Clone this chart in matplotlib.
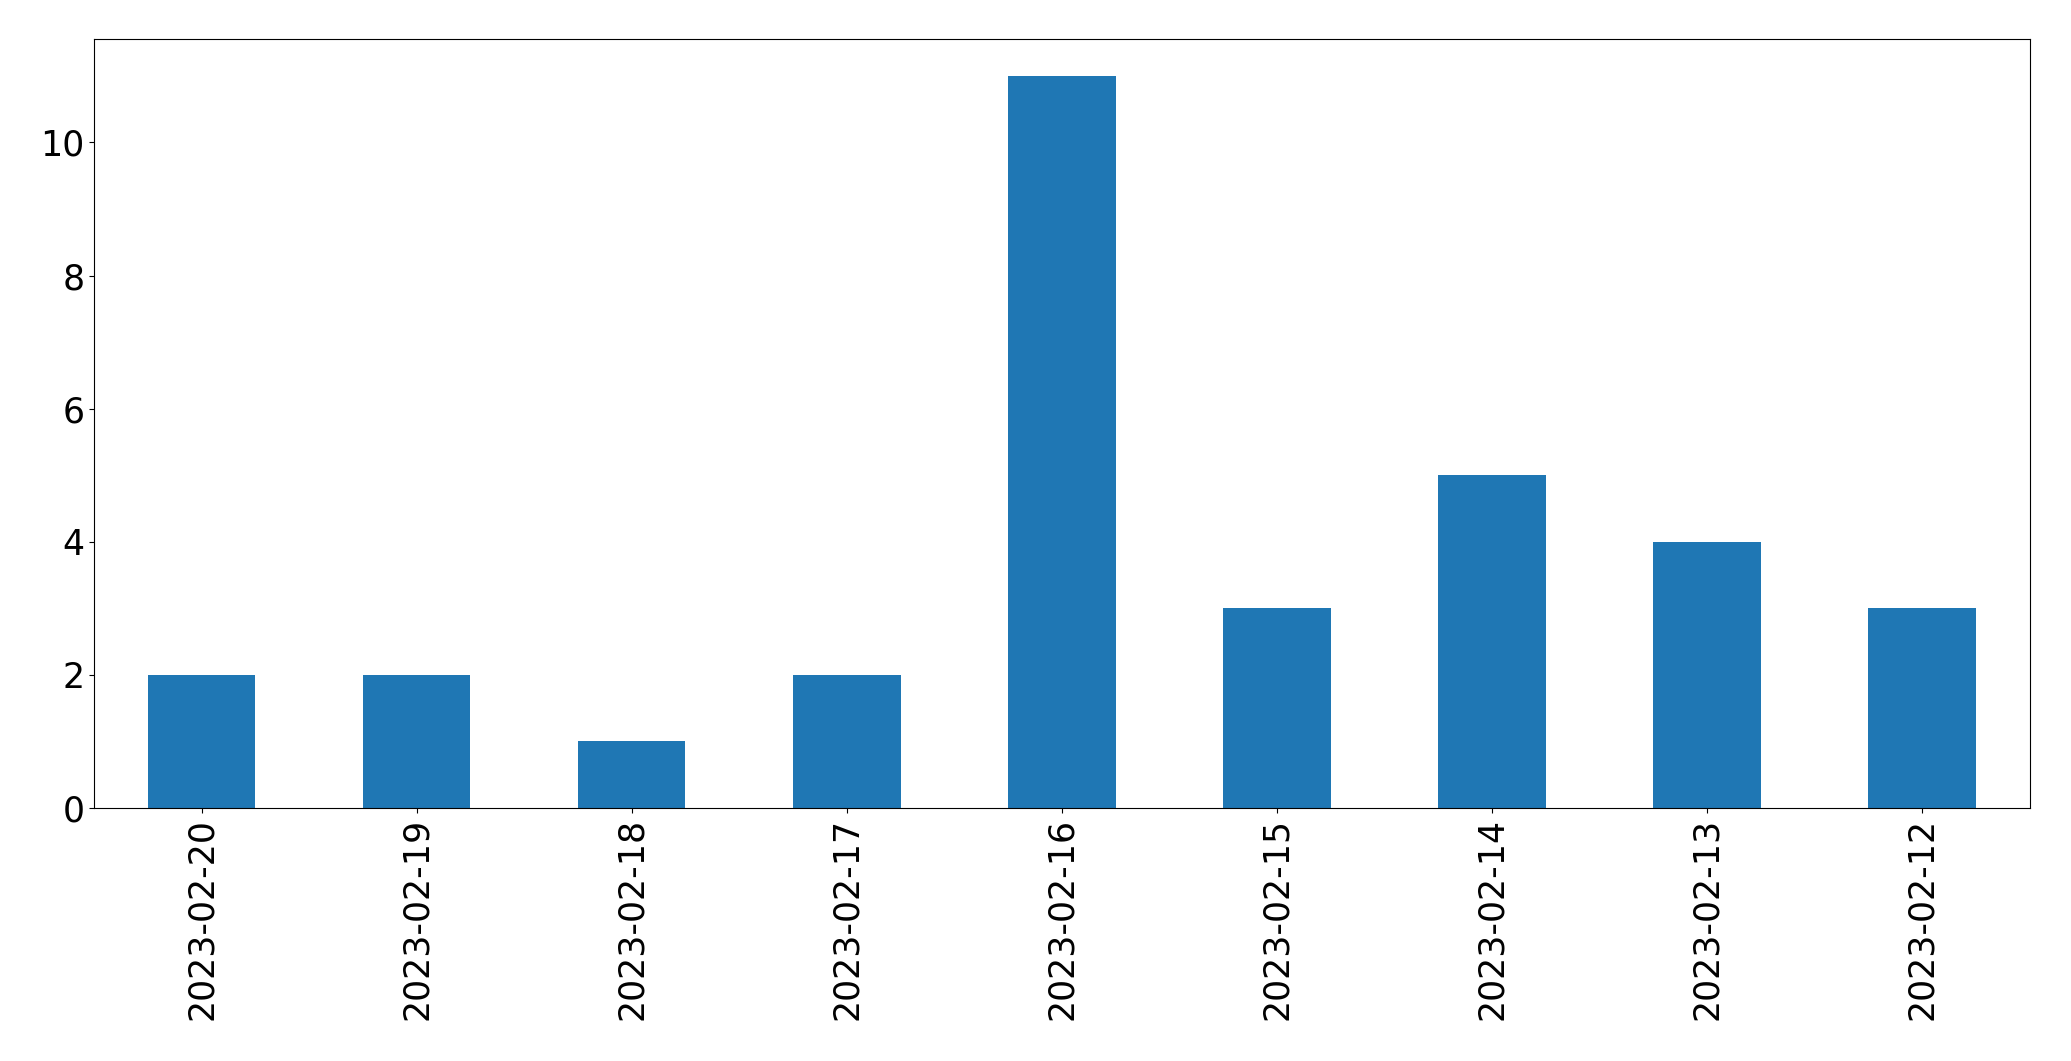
import matplotlib
matplotlib.use("Agg")
import matplotlib.pyplot as plt

dates = ["2023-02-20", "2023-02-19", "2023-02-18", "2023-02-17", "2023-02-16",
         "2023-02-15", "2023-02-14", "2023-02-13", "2023-02-12"]
counts = [2, 2, 1, 2, 11, 3, 5, 4, 3]

fig = plt.figure(figsize=(20.71, 10.61), dpi=100)
ax = fig.add_axes([0.0454, 0.2385, 0.9346, 0.7245])
x = range(len(dates))
ax.bar(x, counts, width=0.5, color="#1f77b4")
ax.set_xticks(list(x))
ax.set_xticklabels(dates, rotation=90)
ax.set_xlim(-0.5, len(dates) - 0.5)
ax.set_ylim(0, 11.55)
ax.tick_params(labelsize=25)
fig.savefig("out.png", dpi=100)
